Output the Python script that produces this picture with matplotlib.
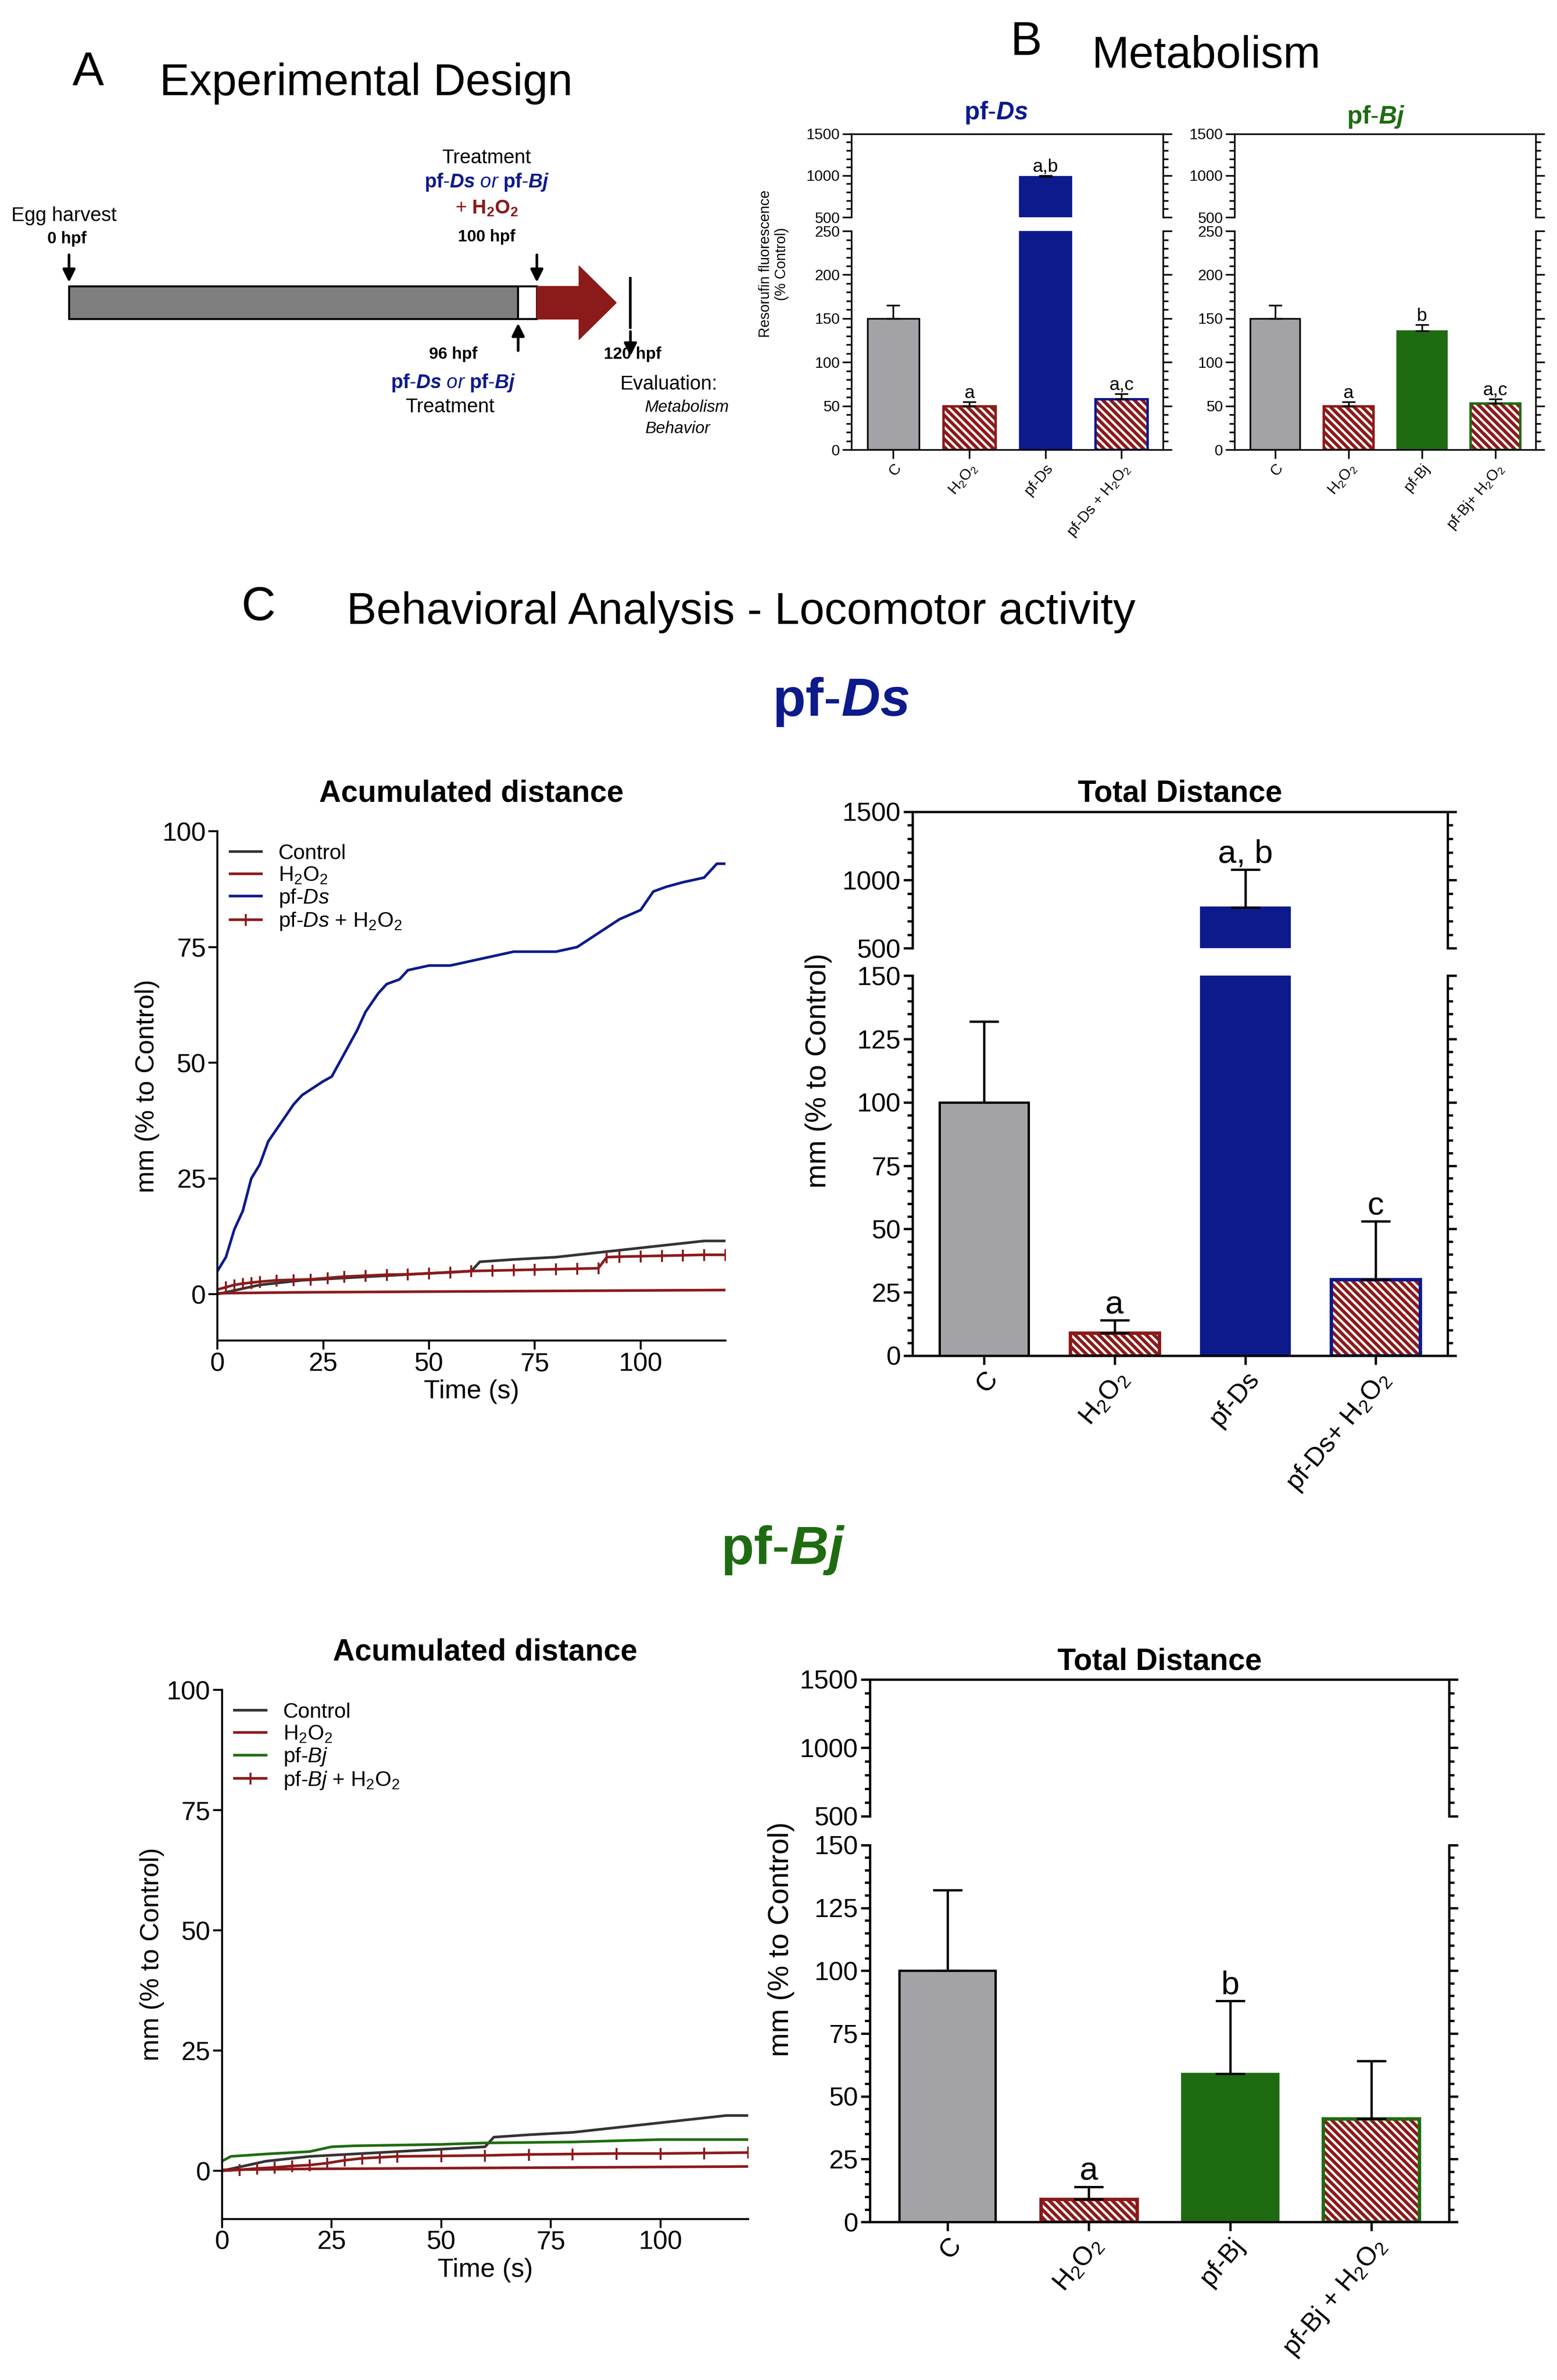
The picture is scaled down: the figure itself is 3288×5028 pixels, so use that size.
import matplotlib.pyplot as plt
from matplotlib.patches import FancyArrow, Rectangle
import numpy as np

plt.rcParams['font.family'] = 'Liberation Sans'
plt.rcParams['mathtext.fontset'] = 'custom'
plt.rcParams['mathtext.rm'] = 'Liberation Sans'
plt.rcParams['mathtext.it'] = 'Liberation Sans:italic'
plt.rcParams['mathtext.bf'] = 'Liberation Sans:bold'
plt.rcParams['mathtext.bfit'] = 'Liberation Sans:bold:italic'
plt.rcParams['hatch.linewidth'] = 5.0

W, H = 1024.0, 1566.0
BLUE = '#0d1a8c'
GREEN = '#1f6b12'
RED = '#8b1a1a'
GRAY = '#a3a3a7'

# ---- data ----
meta_labels_ds = ['C', 'H$_2$O$_2$', 'pf-Ds', 'pf-Ds + H$_2$O$_2$']
meta_vals_ds = [150, 50, 985, 58]
meta_err_ds = [15, 5, 15, 6]
meta_letters_ds = ['', 'a', 'a,b', 'a,c']
meta_labels_bj = ['C', 'H$_2$O$_2$', 'pf-Bj', 'pf-Bj+ H$_2$O$_2$']
meta_vals_bj = [150, 50, 136, 53]
meta_err_bj = [15, 5, 7, 5]
meta_letters_bj = ['', 'a', 'b', 'a,c']

tot_labels_ds = ['C', 'H$_2$O$_2$', 'pf-Ds', 'pf-Ds+ H$_2$O$_2$']
tot_vals_ds = [100, 9, 800, 30]
tot_err_ds = [32, 5, 275, 23]
tot_letters_ds = ['', 'a', 'a, b', 'c']
tot_labels_bj = ['C', 'H$_2$O$_2$', 'pf-Bj', 'pf-Bj + H$_2$O$_2$']
tot_vals_bj = [100, 9, 59, 41]
tot_err_bj = [32, 5, 29, 23]
tot_letters_bj = ['', 'a', 'b', '']

t_ds = [0, 2, 4, 6, 8, 10, 12, 15, 18, 20, 25, 27, 30, 33, 35, 38, 40, 43, 45, 50, 55, 60, 65, 70, 80, 85, 90, 95, 100, 103, 106, 110, 115, 118, 120]
y_ds = [5, 8, 14, 18, 25, 28, 33, 37, 41, 43, 46, 47, 52, 57, 61, 65, 67, 68, 70, 71, 71, 72, 73, 74, 74, 75, 78, 81, 83, 87, 88, 89, 90, 93, 93]
t_ctrl = [0, 5, 10, 20, 30, 40, 50, 60, 62, 70, 80, 90, 100, 110, 115, 120]
y_ctrl = [0, 1, 2, 3, 3.5, 4, 4.5, 5, 7, 7.5, 8, 9, 10, 11, 11.5, 11.5]
t_h2o2 = [0, 20, 40, 60, 80, 100, 120]
y_h2o2 = [0.2, 0.4, 0.5, 0.6, 0.7, 0.8, 0.9]
t_dsh = [0, 2, 4, 6, 8, 10, 14, 18, 22, 26, 30, 35, 40, 45, 50, 55, 60, 65, 70, 75, 80, 85, 90, 92, 95, 100, 105, 110, 115, 120]
y_dsh = [1, 1.5, 2, 2.3, 2.5, 2.7, 3, 3.1, 3.2, 3.5, 3.8, 4, 4.2, 4.3, 4.5, 4.7, 5, 5.1, 5.2, 5.3, 5.4, 5.5, 5.6, 8, 8.1, 8.2, 8.3, 8.4, 8.5, 8.5]
t_bj = [0, 2, 10, 20, 25, 30, 50, 60, 80, 100, 120]
y_bj = [2, 3, 3.5, 4, 5, 5.2, 5.5, 5.8, 6, 6.5, 6.5]
t_bjh = [0, 4, 8, 12, 16, 20, 24, 28, 32, 36, 40, 50, 60, 70, 80, 90, 100, 110, 120]
y_bjh = [0, 0.2, 0.5, 0.7, 1, 1.2, 1.6, 2.2, 2.6, 2.8, 3, 3.1, 3.2, 3.4, 3.5, 3.6, 3.6, 3.7, 3.8]

fig = plt.figure(figsize=(32.88, 50.28), dpi=100)


def ax_at(x0, y0, x1, y1):
    return fig.add_axes([x0 / W, 1 - y1 / H, (x1 - x0) / W, (y1 - y0) / H])


def txt(x, y, s, **kw):
    fig.text(x / W, 1 - y / H, s, **kw)


# ---- panel A ----
txt(58, 48, 'A', fontsize=72, ha='center', va='center')
txt(105, 55, 'Experimental Design', fontsize=68, va='center')
axA = ax_at(30, 120, 430, 300)
axA.set_xlim(-5, 125)
axA.set_ylim(0, 10)
axA.axis('off')
axA.add_patch(Rectangle((0, 5.0), 96, 1.2, fc='#7f7f7f', ec='k', lw=3))
axA.add_patch(Rectangle((96, 5.0), 4, 1.2, fc='white', ec='k', lw=3))
axA.add_patch(FancyArrow(100, 5.6, 17, 0, width=1.2, head_width=2.7, head_length=8, length_includes_head=True, fc=RED, ec=RED))
axA.plot([120, 120], [4.7, 6.5], color='k', lw=4)
for x, y0, y1 in [(0, 7.4, 6.3), (100, 7.4, 6.3), (96, 3.8, 4.9), (120, 4.6, 3.6)]:
    axA.annotate('', xy=(x, y1), xytext=(x, y0), arrowprops=dict(arrowstyle='-|>', color='k', lw=4, mutation_scale=40))
txt(42, 142, 'Egg harvest', fontsize=30, ha='center', va='center')
txt(44, 157, '0 hpf', fontsize=25, ha='center', va='center', weight='bold')
txt(320, 104, 'Treatment', fontsize=30, ha='center', va='center')
txt(320, 120, r'$\mathbf{pf}$-$\mathbfit{Ds}$ $\mathit{or}$ $\mathbf{pf}$-$\mathbfit{Bj}$', fontsize=30, ha='center', va='center', color=BLUE)
txt(320, 137, r'+ $\mathbf{H_2O_2}$', fontsize=30, ha='center', va='center', color=RED)
txt(320, 156, '100 hpf', fontsize=25, ha='center', va='center', weight='bold')
txt(298, 233, '96 hpf', fontsize=25, ha='center', va='center', weight='bold')
txt(298, 252, r'$\mathbf{pf}$-$\mathbfit{Ds}$ $\mathit{or}$ $\mathbf{pf}$-$\mathbfit{Bj}$', fontsize=30, ha='center', va='center', color=BLUE)
txt(296, 268, 'Treatment', fontsize=30, ha='center', va='center')
txt(416, 233, '120 hpf', fontsize=25, ha='center', va='center', weight='bold')
txt(440, 253, 'Evaluation:', fontsize=30, ha='center', va='center')
txt(452, 268, 'Metabolism', fontsize=25, ha='center', va='center', style='italic')
txt(446, 282, 'Behavior', fontsize=25, ha='center', va='center', style='italic')


def draw_bars(ax, vals, errs, colors, capsize, lw):
    for i, (v, e, c) in enumerate(zip(vals, errs, colors)):
        if c[0] == 'hatch':
            ax.bar(i, v, 0.68, color='white', edgecolor=RED, hatch='\\\\', lw=0)
            ax.bar(i, v, 0.68, fill=False, edgecolor=c[1], lw=lw * 1.5)
        else:
            ax.bar(i, v, 0.68, color=c[1], edgecolor='k' if c[1] == GRAY else c[1], lw=lw)
        ax.errorbar(i, v, yerr=[[0], [e]], color='k', capsize=capsize, lw=lw, capthick=lw)
    ax.set_xlim(-0.55, len(vals) - 0.45)


def broken(top_box, bot_box, top_lim, bot_lim, top_ticks, bot_ticks, fs, lw):
    at = ax_at(*top_box)
    ab = ax_at(*bot_box)
    at.set_ylim(*top_lim)
    ab.set_ylim(*bot_lim)
    at.set_yticks(top_ticks)
    ab.set_yticks(bot_ticks)
    for a in (at, ab):
        a.tick_params(axis='y', labelsize=fs, width=lw, length=14, right=True, direction='out')
        for s in a.spines.values():
            s.set_linewidth(lw)
        a.minorticks_on()
        a.tick_params(axis='y', which='minor', right=True, length=8, width=lw)
        a.tick_params(axis='x', which='minor', bottom=False)
    at.spines['bottom'].set_visible(False)
    at.tick_params(axis='x', bottom=False, labelbottom=False)
    ab.spines['top'].set_visible(False)
    return at, ab


def bar_panel(top_box, bot_box, top_lim, bot_lim, top_ticks, bot_ticks, vals, errs, colors, letters, labels, fs, lfs, lw, capsize):
    at, ab = broken(top_box, bot_box, top_lim, bot_lim, top_ticks, bot_ticks, fs, lw)
    for a in (at, ab):
        draw_bars(a, vals, errs, colors, capsize, lw)
    ab.set_xticks(range(len(vals)))
    ab.set_xticklabels(labels, rotation=50, ha='right', rotation_mode='anchor', fontsize=fs)
    ab.tick_params(axis='x', length=14, width=lw)
    for i, (v, e, l) in enumerate(zip(vals, errs, letters)):
        a = at if v > bot_lim[1] else ab
        a.text(i, v + e, l, ha='center', va='bottom', fontsize=lfs)
    return at, ab


# ---- panel B ----
txt(675, 28, 'B', fontsize=72, ha='center', va='center')
txt(718, 37, 'Metabolism', fontsize=68, va='center')
txt(655, 74, r'$\mathbf{pf}$-$\mathbfit{Ds}$', fontsize=38, ha='center', va='center', color=BLUE)
txt(905, 77, r'$\mathbf{pf}$-$\mathbfit{Bj}$', fontsize=38, ha='center', va='center', color=GREEN)
cols_ds = [('s', GRAY), ('hatch', RED), ('s', BLUE), ('hatch', BLUE)]
cols_bj = [('s', GRAY), ('hatch', RED), ('s', GREEN), ('hatch', GREEN)]
at, ab = bar_panel((560, 88, 765, 143), (560, 152, 765, 296), (500, 1500), (0, 250), [500, 1000, 1500], [0, 50, 100, 150, 200, 250],
                   meta_vals_ds, meta_err_ds, cols_ds, meta_letters_ds, meta_labels_ds, 23, 28, 2.5, 10)
ab.set_ylabel('Resorufin fluorescence\n(% Control)', fontsize=22)
ab.yaxis.set_label_coords(-0.2, 0.85)
bar_panel((812, 88, 1010, 143), (812, 152, 1010, 296), (500, 1500), (0, 250), [500, 1000, 1500], [0, 50, 100, 150, 200, 250],
          meta_vals_bj, meta_err_bj, cols_bj, meta_letters_bj, meta_labels_bj, 23, 28, 2.5, 10)

# ---- panel C ----
txt(170, 400, 'C', fontsize=72, ha='center', va='center')
txt(228, 403, 'Behavioral Analysis - Locomotor activity', fontsize=68, va='center')


def line_panel(box, title, series):
    ax = ax_at(*box)
    for t, y, c, lab, mk in series:
        if mk:
            ax.plot(t, y, color=c, lw=4, label=lab, marker='|', markersize=18, mew=3)
        else:
            ax.plot(t, y, color=c, lw=4, label=lab)
    ax.set_xlim(0, 120)
    ax.set_ylim(-10, 100)
    ax.set_xticks([0, 25, 50, 75, 100])
    ax.set_yticks([0, 25, 50, 75, 100])
    ax.spines['top'].set_visible(False)
    ax.spines['right'].set_visible(False)
    for s in ax.spines.values():
        s.set_linewidth(3)
    ax.tick_params(labelsize=40, width=3, length=14)
    ax.set_xlabel('Time (s)', fontsize=40)
    ax.set_ylabel('mm (% to Control)', fontsize=40)
    ax.set_title(title, fontsize=46, weight='bold', pad=45)
    ax.legend(loc='upper left', frameon=False, fontsize=32, handlelength=1.5, borderaxespad=0.2, labelspacing=0.1)
    return ax


txt(553, 462, r'$\mathbf{pf}$-$\mathbfit{Ds}$', fontsize=82, ha='center', va='center', color=BLUE)
line_panel((143, 547, 477, 882), 'Acumulated distance',
           [(t_ctrl, y_ctrl, '#333333', 'Control', False),
            (t_h2o2, y_h2o2, RED, 'H$_2$O$_2$', False),
            (t_ds, y_ds, BLUE, 'pf-$\\mathit{Ds}$', False),
            (t_dsh, y_dsh, RED, 'pf-$\\mathit{Ds}$ + H$_2$O$_2$', True)])
at, ab = bar_panel((600, 534, 952, 624), (600, 642, 952, 892), (500, 1500), (0, 150), [500, 1000, 1500], [0, 25, 50, 75, 100, 125, 150],
                   tot_vals_ds, tot_err_ds, cols_ds, tot_letters_ds, tot_labels_ds, 40, 50, 3.5, 22)
at.set_title('Total Distance', fontsize=46, weight='bold', pad=15)
ab.set_ylabel('mm (% to Control)', fontsize=44)
ab.yaxis.set_label_coords(-0.15, 0.75)

txt(515, 1020, r'$\mathbf{pf}$-$\mathbfit{Bj}$', fontsize=82, ha='center', va='center', color=GREEN)
line_panel((146, 1112, 492, 1460), 'Acumulated distance',
           [(t_ctrl, y_ctrl, '#333333', 'Control', False),
            (t_h2o2, y_h2o2, RED, 'H$_2$O$_2$', False),
            (t_bj, y_bj, GREEN, 'pf-$\\mathit{Bj}$', False),
            (t_bjh, y_bjh, RED, 'pf-$\\mathit{Bj}$ + H$_2$O$_2$', True)])
at, ab = bar_panel((572, 1105, 953, 1195), (572, 1214, 953, 1462), (500, 1500), (0, 150), [500, 1000, 1500], [0, 25, 50, 75, 100, 125, 150],
                   tot_vals_bj, tot_err_bj, cols_bj, tot_letters_bj, tot_labels_bj, 40, 50, 3.5, 22)
at.set_title('Total Distance', fontsize=46, weight='bold', pad=15)
ab.set_ylabel('mm (% to Control)', fontsize=44)
ab.yaxis.set_label_coords(-0.13, 0.75)

fig.savefig('out.png', dpi=100)
